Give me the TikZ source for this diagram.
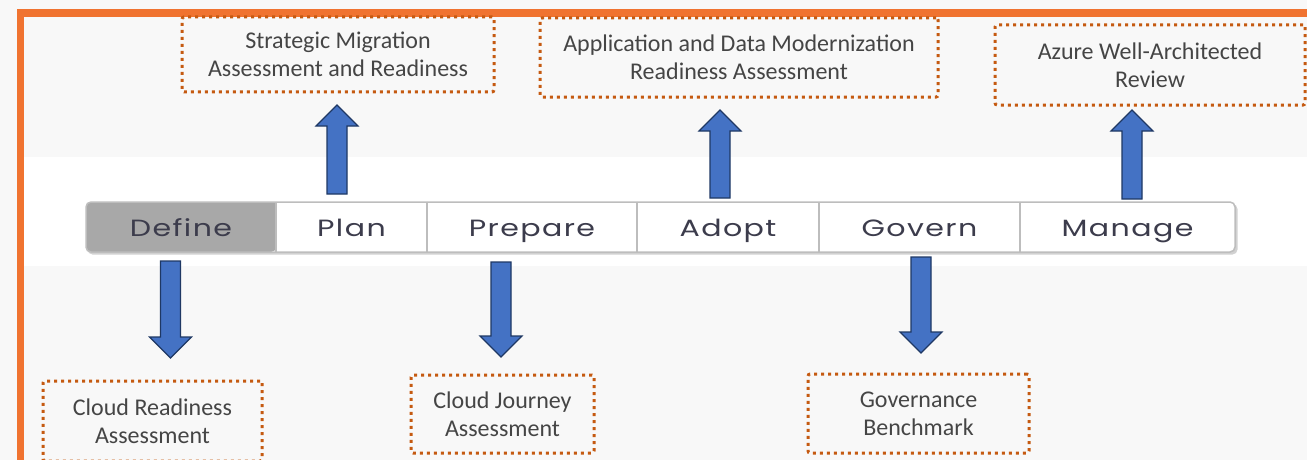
\documentclass[tikz,border=0pt]{standalone}
\usepackage{fontspec}
\setmainfont{Carlito}
\newfontfamily\barfont[FakeStretch=1.28,LetterSpace=6]{Poppins}
\newfontfamily\boxfont{Carlito}
\definecolor{frameorange}{HTML}{F07330}
\definecolor{dotorange}{HTML}{C55A11}
\definecolor{arrowblue}{HTML}{4472C4}
\definecolor{arrowedge}{HTML}{1F3864}
\definecolor{txtgrey}{HTML}{454545}
\definecolor{bartxt}{HTML}{3C3C4C}
\definecolor{definegrey}{HTML}{A8A8A8}
\definecolor{bargrid}{HTML}{BDBDBD}
\definecolor{bgpale}{HTML}{F8F8F8}
\tikzset{
  dotbox/.style={draw=dotorange, line width=3pt, dash pattern=on 3pt off 4pt,
    rounded corners=2pt, align=center, inner sep=0pt, text=txtgrey,
    font=\boxfont\fontsize{24}{28}\selectfont},
  segbox/.style={minimum height=50pt, inner sep=0pt, text=bartxt,
    text height=18pt, text depth=0pt,
    font=\barfont\fontsize{23.5}{26}\selectfont},
  blockarrow/.style={fill=arrowblue, draw=arrowedge, line width=1.2pt, line join=miter},
}
\newcommand\uparrowshape[3]{% x, tip y, bottom y
  \draw[blockarrow] ({#1-10},#3) -- ({#1-10},{#2+21}) -- ({#1-21},{#2+21}) -- (#1,#2)
    -- ({#1+21},{#2+21}) -- ({#1+10},{#2+21}) -- ({#1+10},#3) -- cycle;}
\newcommand\downarrowshape[3]{% x, top y, tip y
  \draw[blockarrow] ({#1-10},#2) -- ({#1-10},{#3-21}) -- ({#1-21},{#3-21}) -- (#1,#3)
    -- ({#1+21},{#3-21}) -- ({#1+10},{#3-21}) -- ({#1+10},#2) -- cycle;}
\begin{document}
\begin{tikzpicture}[x=1pt,y=-1pt]
\useasboundingbox (0,0) rectangle (1307,460);
% background
\fill[bgpale] (0,0) rectangle (1307,460);
\fill[white] (24,157) rectangle (1307,266);
% orange frame
\draw[frameorange, line width=7.6pt] (20.3,470) -- (20.3,12.8) -- (1320,12.8);

% phase bar
\fill[black!18, rounded corners=5pt] (87.5,204) rectangle (1237.5,254.5);
\fill[white, rounded corners=5pt] (86,202) rectangle (1235,252);
\fill[definegrey, rounded corners=5pt] (276,202) -- (86,202) -- (86,252) -- (276,252) [sharp corners] -- cycle;
\node[segbox, minimum width=190pt] (define)  at (181,227)   {Define};
\node[segbox, minimum width=151pt] (plan)    at (351.5,227) {Plan};
\node[segbox, minimum width=210pt] (prepare) at (532,227)   {Prepare};
\node[segbox, minimum width=182pt] (adopt)   at (728,227)   {Adopt};
\node[segbox, minimum width=201pt] (govern)  at (919.5,227) {Govern};
\node[segbox, minimum width=215pt] (manage)  at (1127.5,227){Manage};
\draw[bargrid, line width=1.5pt, rounded corners=5pt] (86,202) rectangle (1235,252);
\foreach \s in {define,plan,prepare,adopt,govern}
  \draw[bargrid, line width=2pt] (\s.north east) -- (\s.south east);

% assessment boxes
\node[dotbox, minimum width=312pt, minimum height=75pt] (sma) at (338,54.5)
  {Strategic Migration\\Assessment and Readiness};
\node[dotbox, minimum width=398pt, minimum height=79pt] (adm) at (739,57.5)
  {Application and Data Modernization\\Readiness Assessment};
\node[dotbox, minimum width=310pt, minimum height=80pt] (waf) at (1150,65)
  {Azure Well-Architected\\Review};
\node[dotbox, minimum width=219pt, minimum height=80pt] (cra) at (152.5,421)
  {Cloud Readiness\\Assessment};
\node[dotbox, minimum width=183pt, minimum height=78pt] (cja) at (502.5,414)
  {Cloud Journey\\Assessment};
\node[dotbox, minimum width=221pt, minimum height=79pt] (gb) at (918.5,413.5)
  {Governance\\Benchmark};

% block arrows
\uparrowshape{337}{105}{194}
\uparrowshape{720}{110}{198}
\uparrowshape{1132}{110}{199}
\downarrowshape{170.5}{261}{358}
\downarrowshape{501}{262}{357}
\downarrowshape{921}{257}{353}
\end{tikzpicture}
\end{document}
